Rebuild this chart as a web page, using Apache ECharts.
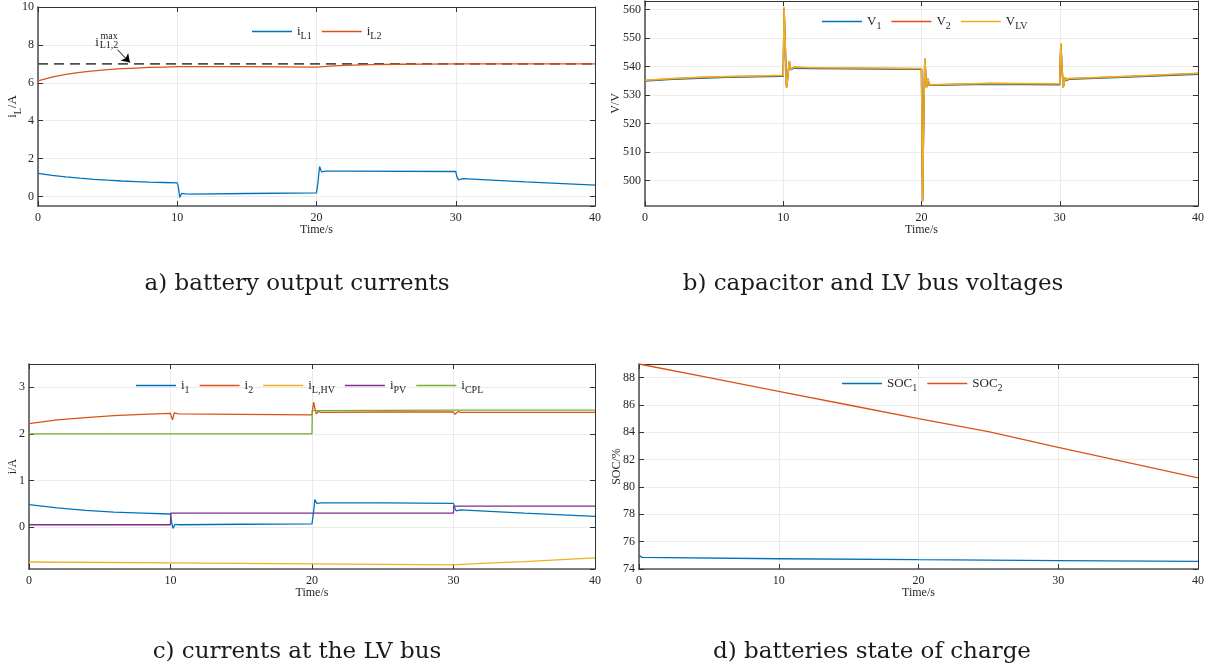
<!DOCTYPE html>
<html>
<head>
<meta charset="utf-8">
<title>LV bus simulation</title>
<script src="https://cdn.jsdelivr.net/npm/echarts@6/dist/echarts.min.js"></script>
<style>
html, body {margin: 0; padding: 0; background: #fff;}
#main {width: 1212px; height: 668px;}
</style>
</head>
<body>
<div id="main"></div>
<script>
"use strict"

// time axis (same for the four plots)
var timeTicks = [0, 10, 20, 30, 40];

// y ranges [min, max, tick step]
var rangeA = [-0.5, 10, 2];
var rangeB = [491, 563, 10];
var rangeC = [-0.9, 3.5, 1];
var rangeD = [74, 89, 2];

// a) battery output currents  [t, value]
var iL1 = [[0,1.22],[1,1.12],[2,1.04],[3,0.97],[4,0.91],[5,0.86],[6,0.82],[7,0.79],[8,0.76],[9,0.74],[10,0.72],
    [10.08,0.5],[10.18,-0.05],[10.32,0.17],[10.46,0.1],[10.6,0.14],[11,0.13],[15,0.16],[20,0.19],
    [20.1,0.7],[20.22,1.58],[20.36,1.3],[20.5,1.38],[20.65,1.34],[22,1.34],[30,1.32],
    [30.08,1.05],[30.2,0.88],[30.34,0.97],[30.5,0.94],[35,0.77],[40,0.6]];
var iL2 = [[0,6.1],[1,6.3],[2,6.44],[3,6.55],[4,6.63],[5,6.7],[6,6.75],[7,6.78],[8,6.81],[9,6.83],[10,6.85],
    [15,6.85],[20,6.83],[21,6.88],[22,6.92],[24,6.96],[26,6.98],[28,6.99],[30,7.0],[40,7.0]];
var iMax = [[0,7],[40,7]];

// b) capacitor and LV bus voltages
var V1 = [[0,534.9],[2,535.5],[4,535.9],[6,536.2],[8,536.4],[10,536.6],[10.06,560],[10.14,547.5],[10.24,532.8],
    [10.34,536.8],[10.44,541.6],[10.54,538.8],[10.62,538.3],[10.75,539.4],[12,539.3],[20,539.0],
    [20.04,515],[20.08,493],[20.14,515],[20.24,542.6],[20.36,532.8],[20.46,535.5],[20.56,533.4],[20.7,534.0],
    [25,533.8],[30,533.6],[30.03,540],[30.08,547.6],[30.15,540.6],[30.25,532.8],[30.4,536.0],[30.5,535.0],
    [30.65,535.5],[35,536.3],[40,537.3]];
var V2 = [[0,535.1],[2,535.7],[4,536.1],[6,536.4],[8,536.6],[10,536.8],[10.06,560.5],[10.14,548],[10.24,532.6],
    [10.34,537],[10.44,541.8],[10.54,539],[10.62,538.5],[10.75,539.7],[12,539.5],[20,539.2],
    [20.04,515],[20.08,492.8],[20.14,515],[20.24,542.8],[20.36,532.6],[20.46,535.7],[20.56,533.5],[20.7,534.2],
    [25,534.0],[30,533.8],[30.03,540],[30.08,548],[30.15,540.8],[30.25,532.6],[30.4,536.2],[30.5,535.2],
    [30.65,535.7],[35,536.5],[40,537.5]];
var VLV = [[0,535.2],[2,535.8],[4,536.2],[6,536.5],[8,536.7],[10,536.9],[10.06,561],[10.14,548],[10.24,532.5],
    [10.34,537],[10.44,542],[10.54,539],[10.62,538.6],[10.75,539.8],[12,539.6],[20,539.3],
    [20.04,515],[20.08,492.5],[20.14,515],[20.24,543],[20.36,532.5],[20.46,535.8],[20.56,533.6],[20.7,534.3],
    [25,534.1],[30,533.9],[30.03,540],[30.08,548.2],[30.15,541],[30.25,532.5],[30.4,536.3],[30.5,535.3],
    [30.65,535.8],[35,536.6],[40,537.6]];

// c) currents at the LV bus
var i1 = [[0,0.48],[2,0.41],[4,0.36],[6,0.32],[8,0.3],[10,0.28],[10.08,0.1],[10.18,-0.03],[10.32,0.06],
    [10.46,0.03],[10.62,0.05],[15,0.06],[20,0.07],[20.1,0.3],[20.2,0.59],[20.34,0.51],[20.48,0.54],
    [20.64,0.52],[25,0.52],[30,0.51],[30.08,0.42],[30.18,0.35],[30.32,0.39],[30.48,0.37],[35,0.3],[40,0.23]];
var i2 = [[0,2.22],[2,2.3],[4,2.35],[6,2.39],[8,2.42],[10,2.44],[10.07,2.36],[10.15,2.3],[10.26,2.45],
    [10.4,2.41],[10.55,2.43],[15,2.42],[20,2.41],[20.05,2.55],[20.12,2.68],[20.2,2.55],[20.3,2.43],
    [20.45,2.48],[20.6,2.46],[25,2.47],[30,2.47],[30.1,2.42],[30.2,2.44],[30.34,2.48],[30.5,2.46],[40,2.46]];
var iLHV = [[0,-0.75],[10,-0.77],[20,-0.79],[30,-0.81],[32,-0.78],[35,-0.74],[40,-0.66]];
var iPV = [[0,0.05],[10,0.05],[10.02,0.3],[30,0.3],[30.02,0.45],[40,0.45]];
var iCPL = [[0,2.0],[20,2.0],[20.02,2.5],[30,2.51],[40,2.51]];

// d) batteries state of charge
var SOC1 = [[0,75.0],[0.2,74.85],[10,74.75],[20,74.68],[30,74.62],[40,74.56]];
var SOC2 = [[0,89],[5,88],[10,87],[15,86],[20,85],[25,84.05],[30,82.9],[35,81.78],[40,80.66]];

var captions = ["a) battery output currents", "b) capacitor and LV bus voltages",
    "c) currents at the LV bus", "d) batteries state of charge"];

var serif = '"Liberation Serif", "Times New Roman", serif';
var ink = '#262626';
var colors = ['#0072BD', '#D95319', '#EDB120', '#7E2F8E', '#77AC30'];

// legend text with subscripts
var richName = {
    iL1: '{m|i}{s|L1}', iL2: '{m|i}{s|L2}',
    V1: '{m|V}{s|1}', V2: '{m|V}{s|2}', VLV: '{m|V}{s|LV}',
    i1: '{m|i}{s|1}', i2: '{m|i}{s|2}', iLHV: '{m|i}{s|L,HV}', iPV: '{m|i}{s|PV}', iCPL: '{m|i}{s|CPL}',
    SOC1: '{m|SOC}{s|1}', SOC2: '{m|SOC}{s|2}'
};
var rich = {
    m: {fontSize: 13, fontFamily: serif, color: ink, lineHeight: 20, verticalAlign: 'middle'},
    s: {fontSize: 10, fontFamily: serif, color: ink, lineHeight: 10, verticalAlign: 'bottom'}
};

var grids = [
    {left: 38, top: 7, width: 557, height: 199},
    {left: 645, top: 1, width: 553, height: 205},
    {left: 29, top: 364, width: 566, height: 205},
    {left: 639, top: 364, width: 559, height: 205}
];

function timeAxis(g, bottom){
    return {
        type: 'value', gridIndex: g,
        min: timeTicks[0], max: timeTicks[timeTicks.length - 1], interval: timeTicks[1] - timeTicks[0],
        position: bottom ? 'bottom' : 'top',
        name: bottom ? 'Time/s' : '',
        nameLocation: 'middle', nameGap: 18, nameMoveOverlap: false,
        nameTextStyle: {fontFamily: serif, fontSize: 12, color: ink},
        axisLine: {show: true, onZero: false, lineStyle: {color: bottom ? '#555' : '#333', width: bottom ? 1.6 : 1}},
        axisTick: {show: true, inside: true, length: 5, lineStyle: {color: '#333'}},
        axisLabel: {show: bottom, margin: 6, fontFamily: serif, fontSize: 12, color: ink},
        splitLine: {show: bottom, lineStyle: {color: '#ebebeb'}}
    };
}

function valueAxis(g, left, range, name, gap){
    return {
        type: 'value', gridIndex: g,
        min: range[0], max: range[1], minInterval: range[2], maxInterval: range[2],
        position: left ? 'left' : 'right',
        name: left ? name : '',
        nameLocation: 'middle', nameGap: gap, nameMoveOverlap: false,
        nameTextStyle: {fontFamily: serif, fontSize: 12, color: ink, rich: rich},
        axisLine: {show: true, onZero: false, lineStyle: {color: left ? '#555' : '#333', width: left ? 1.6 : 1}},
        axisTick: {show: true, inside: true, length: 5, lineStyle: {color: '#333'}},
        axisLabel: {show: left, margin: 4, fontFamily: serif, fontSize: 12, color: ink,
            showMinLabel: range[0] % range[2] === 0, showMaxLabel: range[1] % range[2] === 0},
        splitLine: {show: left, lineStyle: {color: '#ebebeb'}}
    };
}

function line(name, data, g, color, width){
    return {
        name: name, type: 'line', data: data,
        xAxisIndex: g * 2, yAxisIndex: g * 2,
        symbol: 'none', showSymbol: false,
        lineStyle: {color: color, width: width || 1.3},
        itemStyle: {color: color},
        animation: false
    };
}

function legendAt(names, left, top){
    return {
        data: names, left: left, top: top, padding: 0,
        icon: 'rect', itemWidth: 40, itemHeight: 1.5, itemGap: 10,
        formatter: function(n){ return richName[n]; },
        textStyle: {rich: rich}
    };
}

var xAxes = [], yAxes = [];
var yInfo = [[rangeA, '{m|i}{s|L}{m|/A}', 15], [rangeB, 'V/V', 23], [rangeC, 'i/A', 10], [rangeD, 'SOC/%', 16]];
for(let g = 0; g < 4; g++){
    xAxes.push(timeAxis(g, true));
    xAxes.push(timeAxis(g, false));
    yAxes.push(valueAxis(g, true, yInfo[g][0], yInfo[g][1], yInfo[g][2]));
    yAxes.push(valueAxis(g, false, yInfo[g][0], '', 0));
}

// dashed limit line with the i_max note and arrow
var limit = line('imax', iMax, 0, '#505050', 1.6);
limit.lineStyle.type = [10, 6];
limit.markPoint = {
    symbol: 'circle', symbolSize: 1, silent: true,
    itemStyle: {color: 'rgba(0,0,0,0)'},
    label: {show: true, position: 'inside', fontFamily: serif, color: ink, fontSize: 13},
    data: [
        {coord: [4.24, 8.1], label: {formatter: 'i', fontSize: 13}},
        {coord: [5.1, 8.45], label: {formatter: 'max', fontSize: 10}},
        {coord: [5.1, 7.95], label: {formatter: 'L1,2', fontSize: 10}}
    ]
};
limit.markLine = {
    silent: true, symbol: ['none', 'arrow'], symbolSize: 8,
    lineStyle: {color: '#000', type: 'solid', width: 1},
    label: {show: false},
    data: [[{coord: [5.7, 7.75]}, {coord: [6.6, 7.07]}]]
};

var series = [
    line('iL1', iL1, 0, colors[0]),
    limit,
    line('iL2', iL2, 0, colors[1]),
    line('V1', V1, 1, colors[0], 1.5),
    line('V2', V2, 1, colors[1], 1.5),
    line('VLV', VLV, 1, colors[2], 1.5),
    line('i1', i1, 2, colors[0]),
    line('i2', i2, 2, colors[1]),
    line('iLHV', iLHV, 2, colors[2]),
    line('iPV', iPV, 2, colors[3]),
    line('iCPL', iCPL, 2, colors[4]),
    line('SOC1', SOC1, 3, colors[0]),
    line('SOC2', SOC2, 3, colors[1])
];

var capPos = [[297, 284], [873, 284], [297, 652], [872, 652]];
var graphics = [];
for(let k = 0; k < captions.length; k++){
    graphics.push({
        type: 'text', x: capPos[k][0], y: capPos[k][1], silent: true,
        style: {text: captions[k], align: 'center', verticalAlign: 'middle',
            fontFamily: '"DejaVu Serif", serif', fontSize: 23, fill: '#1a1a1a'}
    });
}

var chart = echarts.init(document.getElementById('main'), null, {renderer: 'canvas'});
chart.setOption({
    backgroundColor: '#fff',
    animation: false,
    grid: grids,
    xAxis: xAxes,
    yAxis: yAxes,
    legend: [
        legendAt(['iL1', 'iL2'], 252, 25),
        legendAt(['V1', 'V2', 'VLV'], 822, 15),
        legendAt(['i1', 'i2', 'iLHV', 'iPV', 'iCPL'], 136, 379),
        legendAt(['SOC1', 'SOC2'], 842, 377)
    ],
    series: series,
    graphic: graphics
});
</script>
</body>
</html>
